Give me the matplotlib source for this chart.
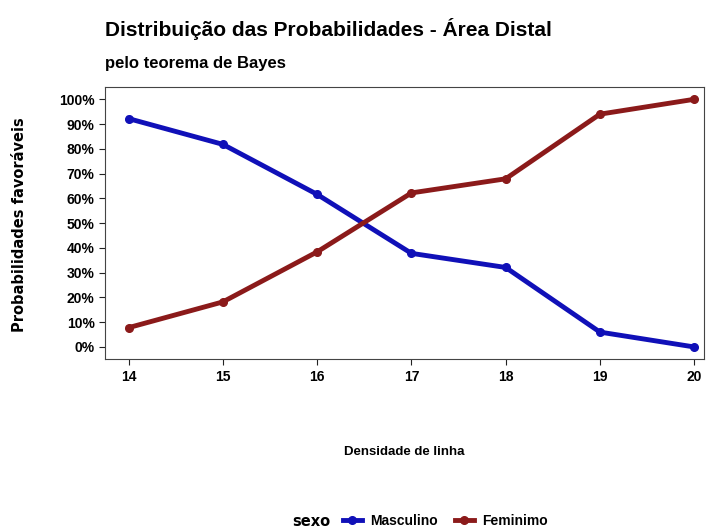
import matplotlib.pyplot as plt
import numpy as np
from matplotlib.ticker import PercentFormatter

plt.rcParams['font.family'] = ['Liberation Sans', 'DejaVu Sans']

densidade = [14, 15, 16, 17, 18, 19, 20]
masculino = [92.2, 81.8, 61.6, 37.8, 32.1, 6.0, 0.0]
feminino = [7.8, 18.2, 38.4, 62.2, 67.9, 94.0, 100.0]

fig = plt.figure(figsize=(7.1, 5.3), dpi=100)
ax = fig.add_axes([0.148, 0.322, 0.843, 0.514])

ax.plot(densidade, masculino, color='#1010b8', lw=3.5, marker='o', ms=5.5, label='Masculino')
ax.plot(densidade, feminino, color='#8b1a1a', lw=3.5, marker='o', ms=5.5, label='Feminimo')

ax.set_xlim(13.75, 20.1)
ax.set_ylim(-5, 105)
ax.set_xticks(densidade)
ax.set_yticks(np.arange(0, 101, 10))
ax.yaxis.set_major_formatter(PercentFormatter(decimals=0))
ax.tick_params(direction='out', length=4, width=0.8, labelsize=10, colors='#222222')
for lab in ax.get_xticklabels() + ax.get_yticklabels():
    lab.set_fontweight('bold')
    lab.set_color('black')
for s in ax.spines.values():
    s.set_linewidth(0.8)
    s.set_color('#444444')

fig.text(0.148, 0.945, 'Distribuição das Probabilidades - Área Distal', fontsize=15,
         fontweight='bold', va='center', ha='left')
fig.text(0.148, 0.88, 'pelo teorema de Bayes', fontsize=12, fontweight='bold',
         va='center', ha='left')
fig.text(0.028, 0.577, 'Probabilidades favoráveis', rotation=90, fontsize=10.5,
         fontweight='bold', va='center', ha='center', family='DejaVu Sans')
fig.text(0.57, 0.148, 'Densidade de linha', fontsize=9.5, fontweight='bold',
         va='center', ha='center')

fig.text(0.412, 0.016, 'sexo', fontsize=10.5, fontweight='bold', va='center', ha='left',
         family='DejaVu Sans')
leg = fig.legend(loc='center left', bbox_to_anchor=(0.465, 0.017), ncol=2, frameon=False,
                 handlelength=1.4, columnspacing=1.2, handletextpad=0.6,
                 prop={'weight': 'bold', 'size': 10})

fig.savefig('out.png', dpi=100)
